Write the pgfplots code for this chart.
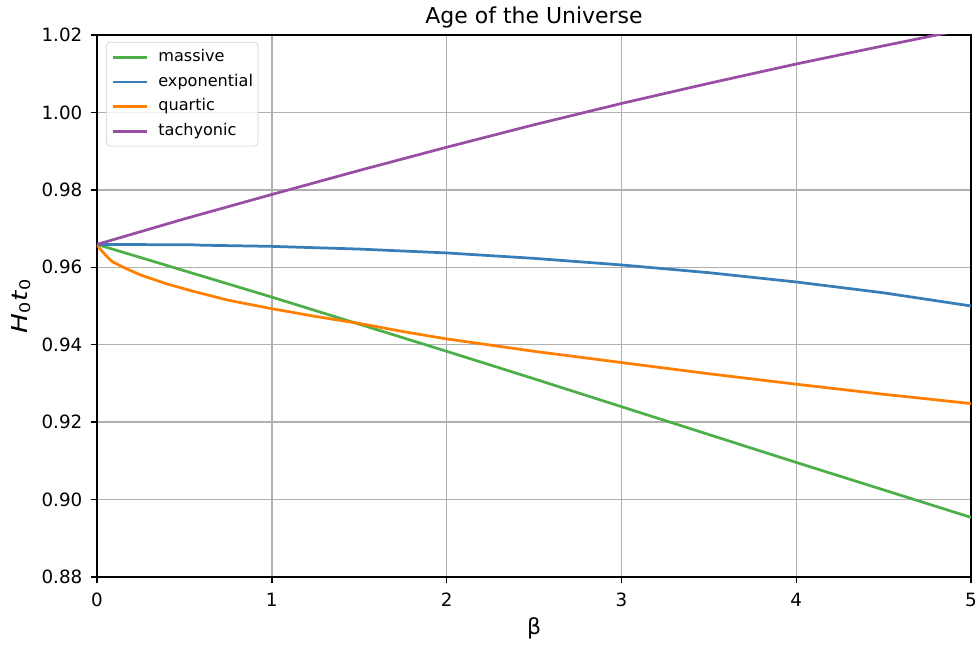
\documentclass[border=0pt]{standalone}
\usepackage{fontspec}
\setmainfont{DejaVu Sans}
\usepackage{graphicx}
\usepackage{pgfplots}
\pgfplotsset{compat=1.18}
\definecolor{cgreen}{HTML}{4DAF4A}
\definecolor{cblue}{HTML}{377EB8}
\definecolor{corange}{HTML}{FF7F00}
\definecolor{cpurple}{HTML}{984EA3}
\definecolor{cgrid}{HTML}{B0B0B0}
\begin{document}
\begin{tikzpicture}
\begin{axis}[
  at={(0,0)}, anchor=origin,
  scale only axis,
  width=477.6pt, height=296.2pt,
  xmin=0, xmax=5, ymin=0.88, ymax=1.02,
  xtick={0,1,2,3,4,5},
  ytick={0.88,0.90,0.92,0.94,0.96,0.98,1.00,1.02},
  y tick label style={/pgf/number format/fixed, /pgf/number format/fixed zerofill, /pgf/number format/precision=2},
  /pgf/number format/assume math mode=true,
  tick label style={font=\fontsize{10}{12}\selectfont, inner sep=0pt},
  xticklabel style={anchor=north, yshift=-5.2pt},
  yticklabel style={anchor=east, xshift=-4.3pt},
  tick align=outside,
  tick pos=left,
  major tick length=3.5pt,
  tick style={black, line width=0.8pt},
  axis line style={line width=0.8pt},
  grid=major,
  major grid style={cgrid, line width=0.8pt},
  title={Age of the Universe},
  title style={font=\fontsize{12}{14}\selectfont, at={(0.5,1)}, anchor=base, yshift=0pt, inner sep=0pt},
  xlabel={β},
  xlabel style={font=\fontsize{12}{14}\selectfont, at={(0.5,0)}, anchor=center, yshift=-28pt},
  ylabel={\scalebox{1.2}[1]{{\itshape H}\textsubscript{0}{\itshape t}\textsubscript{0}}},
  ylabel style={font=\fontsize{12}{14}\selectfont, at={(-0.0865,0.5)}, anchor=center},
  legend style={at={(0.0103,0.987)}, anchor=north west, draw=black!18, rounded corners=2pt,
    font=\fontsize{8.8}{10}\selectfont, row sep=4.5pt, inner xsep=2.7pt, inner ysep=3.6pt,
    fill=white, fill opacity=0.8, text opacity=1,
    nodes={inner sep=0pt, text height=6.8pt, text depth=2.2pt},
    /tikz/every odd column/.append style={column sep=5.2pt}},
  legend cell align=left,
  legend image code/.code={\draw[#1, line width=1.5pt] (0pt,0pt) -- (19pt,0pt);},
  every axis plot/.append style={line width=1.5pt},
]
\addplot[cgreen] coordinates {
 (0,0.9659) (0.5,0.9591) (1,0.9523) (1.5,0.9453) (2,0.9383) (2.5,0.9312)
 (3,0.9240) (3.5,0.9168) (4,0.9096) (4.5,0.9025) (5,0.8954)};
\addlegendentry{massive}
\addplot[cblue] coordinates {
 (0,0.9659) (0.55,0.9658) (0.6,0.9657) (1,0.9654) (1.5,0.9647) (2,0.9637)
 (2.5,0.9623) (3,0.9606) (3.5,0.9586) (4,0.9562) (4.5,0.9534) (5,0.9500)};
\addlegendentry{exponential}
\addplot[corange] coordinates {
 (0,0.9657) (0.02,0.9646) (0.05,0.9631) (0.086,0.9615) (0.15,0.9600) (0.25,0.9580)
 (0.4,0.9557) (0.55,0.9538) (0.75,0.9515) (1,0.9493) (1.25,0.9473) (1.5,0.9455)
 (1.75,0.9434) (2,0.9415) (2.5,0.9383) (3,0.9354) (3.5,0.9325) (4,0.9298)
 (4.5,0.9272) (5,0.9248)};
\addlegendentry{quartic}
\addplot[cpurple] coordinates {
 (0,0.9659) (0.5,0.9725) (1,0.9788) (1.5,0.9850) (2,0.9910) (2.5,0.9968)
 (3,1.0023) (3.5,1.0075) (4,1.0125) (4.5,1.0172) (5,1.0218)};
\addlegendentry{tachyonic}
\end{axis}
\pgfresetboundingbox
\path[use as bounding box] (-53.0pt,-37.7pt) rectangle (481.4pt,315.3pt);
\end{tikzpicture}
\end{document}
